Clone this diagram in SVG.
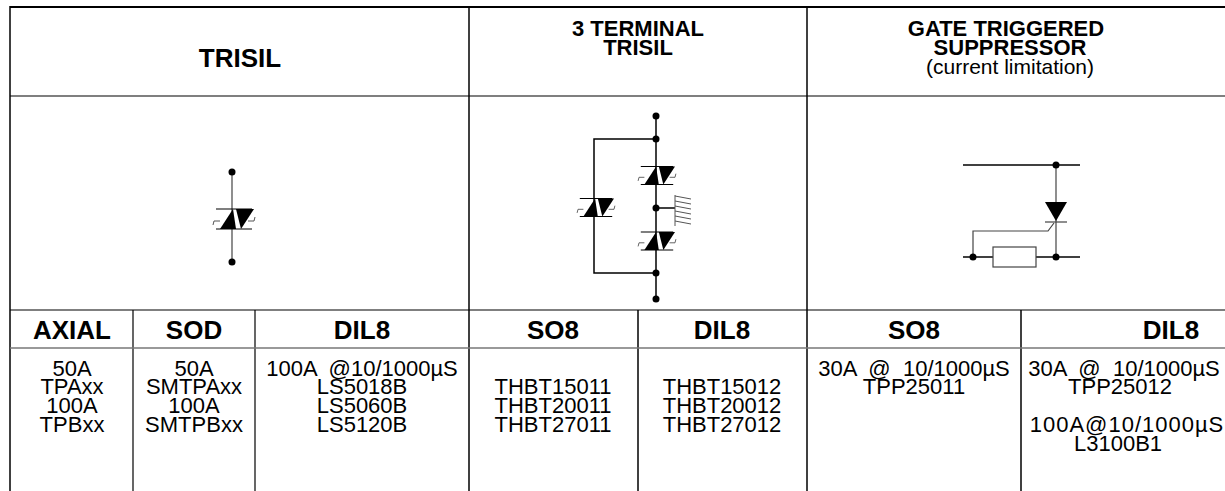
<svg xmlns="http://www.w3.org/2000/svg" width="1225" height="491" viewBox="0 0 1225 491">
<style>
.b{font-family:"Liberation Sans",Arial,sans-serif;font-weight:bold;font-size:22px;text-anchor:middle;fill:#000}
.h{font-family:"Liberation Sans",Arial,sans-serif;font-weight:bold;font-size:26px;text-anchor:middle;fill:#000}
.t{font-family:"Liberation Sans",Arial,sans-serif;font-size:22px;text-anchor:middle;fill:#000}
.s{font-family:"Liberation Sans",Arial,sans-serif;font-size:21px;text-anchor:middle;fill:#000}
.g{stroke:#000;stroke-width:1.5;fill:none}
.gl{stroke:#444;stroke-width:1.2;fill:none}
.thin{stroke:#555;stroke-width:1;fill:none}
</style>
<defs>
<g id="trisil">
<line x1="-18" y1="-10" x2="18" y2="-10" stroke="#000" stroke-width="1.2"/>
<line x1="-18" y1="10" x2="18" y2="10" stroke="#000" stroke-width="1.2"/>
<polygon points="-14,10 2,10 -1,-10" fill="#000"/>
<polygon points="2,-10 20,-10 7,10" fill="#000"/>
<polyline points="-21,6 -20,2 -14,2" class="thin"/>
<polyline points="14,2 20,2 21,-2" class="thin"/>
</g>
<circle id="dot" r="3.5" fill="#000"/>
</defs>
<g id="table">
<line x1="10" y1="7" x2="1225" y2="7" stroke="#000" stroke-width="2"/>
<line x1="10" y1="6" x2="10" y2="491" stroke="#000" stroke-width="1.5"/>
<line x1="469" y1="7" x2="469" y2="491" stroke="#000" stroke-width="1.5"/>
<line x1="807" y1="7" x2="807" y2="491" stroke="#000" stroke-width="1.5"/>
<line x1="133" y1="310" x2="133" y2="491" stroke="#000" stroke-width="1.2"/>
<line x1="255" y1="310" x2="255" y2="491" stroke="#000" stroke-width="1.2"/>
<line x1="638" y1="310" x2="638" y2="491" stroke="#000" stroke-width="1.5"/>
<line x1="1021" y1="310" x2="1021" y2="491" stroke="#000" stroke-width="1.5"/>
<line x1="10" y1="96" x2="1225" y2="96" stroke="#000" stroke-width="1.2"/>
<line x1="10" y1="310" x2="1225" y2="310" stroke="#000" stroke-width="1.2"/>
<line x1="10" y1="348" x2="1225" y2="348" stroke="#777" stroke-width="1.5"/>
</g>
<g id="headers">
<text class="h" x="240" y="67">TRISIL</text>
<text class="b" x="638" y="36">3 TERMINAL</text>
<text class="b" x="638" y="55">TRISIL</text>
<text class="b" x="1006" y="36">GATE TRIGGERED</text>
<text class="b" x="1010" y="55">SUPPRESSOR</text>
<text class="s" x="1010" y="74">(current limitation)</text>
<text class="h" x="72" y="339">AXIAL</text>
<text class="h" x="194" y="339">SOD</text>
<text class="h" x="362" y="339">DIL8</text>
<text class="h" x="553" y="339">SO8</text>
<text class="h" x="722" y="339">DIL8</text>
<text class="h" x="914" y="339">SO8</text>
<text class="h" x="1171" y="339">DIL8</text>
</g>
<g id="cells">
<text class="t" x="72" y="376">50A</text>
<text class="t" x="72" y="394">TPAxx</text>
<text class="t" x="72" y="413">100A</text>
<text class="t" x="72" y="432">TPBxx</text>
<text class="t" x="194" y="376">50A</text>
<text class="t" x="194" y="394">SMTPAxx</text>
<text class="t" x="194" y="413">100A</text>
<text class="t" x="194" y="432">SMTPBxx</text>
<text class="t" x="362" y="376" xml:space="preserve">100A  @10/1000µS</text>
<text class="t" x="362" y="394">LS5018B</text>
<text class="t" x="362" y="413">LS5060B</text>
<text class="t" x="362" y="432">LS5120B</text>
<text class="t" x="553" y="394">THBT15011</text>
<text class="t" x="553" y="413">THBT20011</text>
<text class="t" x="553" y="432">THBT27011</text>
<text class="t" x="722" y="394">THBT15012</text>
<text class="t" x="722" y="413">THBT20012</text>
<text class="t" x="722" y="432">THBT27012</text>
<text class="t" x="914" y="376" xml:space="preserve">30A  @  10/1000µS</text>
<text class="t" x="914" y="394">TPP25011</text>
<text class="t" x="1124" y="376" xml:space="preserve">30A  @  10/1000µS</text>
<text class="t" x="1120" y="394">TPP25012</text>
<text class="t" x="1127" y="432" letter-spacing="1">100A@10/1000µS</text>
<text class="t" x="1118" y="451">L3100B1</text>
</g>
<g id="sym-trisil">
<line x1="232" y1="172" x2="232" y2="262" class="gl"/>
<use href="#dot" x="232" y="172"/>
<use href="#dot" x="232" y="262"/>
<use href="#trisil" x="234" y="219"/>
</g>
<g id="sym-3terminal">
<line x1="656" y1="116" x2="656" y2="299" class="g"/>
<polyline points="656,139 594,139 594,273 656,273" class="g"/>
<line x1="656" y1="208" x2="675" y2="208" class="g"/>
<line x1="675" y1="195" x2="675" y2="226" class="thin"/>
<g class="thin">
<line x1="675" y1="196" x2="691" y2="199"/>
<line x1="675" y1="201" x2="691" y2="204"/>
<line x1="675" y1="206" x2="691" y2="209"/>
<line x1="675" y1="211" x2="691" y2="214"/>
<line x1="675" y1="216" x2="691" y2="219"/>
<line x1="675" y1="221" x2="691" y2="224"/>
</g>
<use href="#dot" x="656" y="116"/>
<use href="#dot" x="656" y="139"/>
<use href="#dot" x="656" y="208"/>
<use href="#dot" x="656" y="273"/>
<use href="#dot" x="656" y="299"/>
<use href="#trisil" x="596" y="207.5" transform="translate(596 207.5) scale(0.9) translate(-596 -207.5)"/>
<use href="#trisil" x="657" y="175.5" transform="translate(657 175.5) scale(0.9) translate(-657 -175.5)"/>
<use href="#trisil" x="657" y="241" transform="translate(657 241) scale(0.9) translate(-657 -241)"/>
</g>
<g id="sym-gate">
<line x1="963" y1="165" x2="1080" y2="165" class="g"/>
<line x1="963" y1="257" x2="993" y2="257" class="g"/>
<line x1="1036" y1="257" x2="1080" y2="257" class="g"/>
<line x1="1056" y1="165" x2="1056" y2="257" class="gl"/>
<polygon points="1045,202 1067,202 1056,221" fill="#000"/>
<line x1="1045" y1="222" x2="1067" y2="222" class="gl"/>
<polyline points="1054,223 1048,231 973,231 973,257" class="gl"/>
<rect x="993" y="247" width="43" height="20" fill="#fff" stroke="#444" stroke-width="1.2"/>
<use href="#dot" x="1056" y="165"/>
<use href="#dot" x="973" y="257"/>
<use href="#dot" x="1056" y="257"/>
</g>
</svg>
